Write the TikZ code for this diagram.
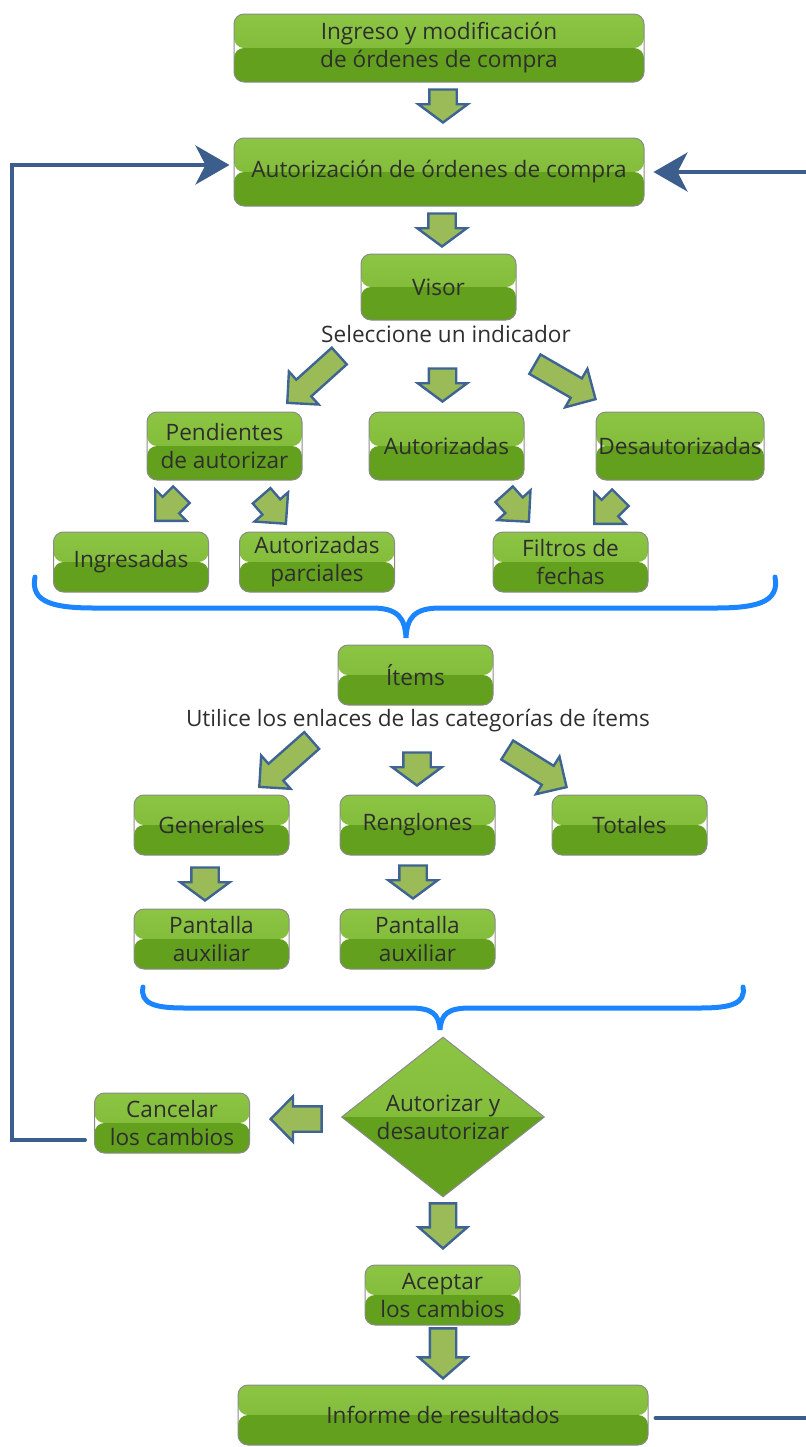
\documentclass[tikz,border=0pt]{standalone}
\usepackage{fontspec}
\setmainfont{Open Sans}
\usetikzlibrary{arrows.meta,shapes.geometric,shapes.arrows}
\definecolor{gtop}{HTML}{8CC544}
\definecolor{gmid}{HTML}{7AB532}
\definecolor{gbot}{HTML}{62A01E}
\definecolor{edge}{HTML}{8A8A8A}
\definecolor{ink}{HTML}{2E2E2E}
\definecolor{afill}{HTML}{9BBB59}
\definecolor{aedge}{HTML}{3F6494}
\definecolor{loopblue}{HTML}{3B5E8C}
\definecolor{bracecol}{HTML}{1A85FF}
\newcommand{\boxfont}{\fontsize{11.3}{14}\selectfont}
\tikzset{
  stepbox/.style={rounded corners=5pt,draw=edge,line width=0.5pt,text=ink,font=\boxfont,
    align=center,inner sep=0pt,minimum width=77.5pt,minimum height=30pt,
    path picture={
      \shade[top color=gtop,bottom color=gmid] (path picture bounding box.north west) rectangle (path picture bounding box.east);
      \fill[gbot] (path picture bounding box.west) rectangle (path picture bounding box.south east);
    }},
  widebox/.style={stepbox,minimum width=205pt,minimum height=34pt},
  tallbox/.style={stepbox,minimum height=34pt},
  decision/.style={stepbox,diamond,rounded corners=0pt,aspect=1.27,inner sep=-5pt,
    minimum width=101.5pt,minimum height=80pt},
  hint/.style={text=ink,font=\boxfont,inner sep=0pt},
  blockarrow/.style={single arrow,draw=aedge,fill=afill,line width=1.2pt,inner xsep=0pt,anchor=tip},
  downarrow/.style={blockarrow,rotate=-90,minimum height=16.5pt,minimum width=23.5pt,inner ysep=6.25pt,
    single arrow head extend=5.5pt,single arrow tip angle=107},
  longdown/.style={blockarrow,rotate=-90,minimum height=#1,minimum width=23pt,inner ysep=6pt,
    single arrow head extend=5.5pt,single arrow tip angle=98},
  bigslant/.style={blockarrow,rotate=#1,minimum height=35pt,minimum width=21pt,inner ysep=5pt,
    single arrow head extend=5.5pt,single arrow tip angle=90},
  smallslant/.style={blockarrow,rotate=#1,minimum height=18.5pt,minimum width=21pt,inner ysep=5.25pt,
    single arrow head extend=5.25pt,single arrow tip angle=90},
  loopline/.style={loopblue,line width=2pt,line cap=round},
  looparrow/.style={loopline,-{Stealth[length=17pt,width=19.5pt,inset=5pt]}},
  bracket/.style={bracecol,line width=2.5pt,line cap=round}
}
\begin{document}
\begin{tikzpicture}[x=0.5pt,y=-0.5pt]
\useasboundingbox (0,0) rectangle (805,1447);
% top of the flow
\node[widebox] (ingreso) at (439,48) {Ingreso y modificación\\de órdenes de compra};
\node[downarrow] (a1) at (443,124) {};
\node[widebox] (autor) at (439,172) {Autorización de órdenes de compra};
\node[downarrow] (a2) at (442,248) {};
\node[stepbox,minimum height=33pt] (visor) at (438.5,287) {Visor};
\node[hint] (indic) at (446,334) {Seleccione un indicador};
\node[bigslant=222] (d1) at (286,404) {};
\node[downarrow] (a3) at (442.5,403) {};
\node[bigslant=-30] (d2) at (597,400) {};
% indicadores
\node[tallbox] (pend) at (224.5,446) {Pendientes\\de autorizar};
\node[tallbox] (autz) at (446.5,446) {Autorizadas};
\node[tallbox,minimum width=84pt] (desa) at (680,446) {Desautorizadas};
\node[smallslant=225] (s1) at (154,522) {};
\node[smallslant=-49] (s2) at (287,525) {};
\node[smallslant=-48] (s3) at (530,523) {};
\node[smallslant=225] (s4) at (593,525) {};
\node[stepbox] (ingr) at (131,562) {Ingresadas};
\node[stepbox] (parc) at (317,562) {Autorizadas\\parciales};
\node[stepbox] (filt) at (570.5,562) {Filtros de\\fechas};
\draw[bracket] (35,577) .. controls (30,603) and (55,608) .. (95,608) -- (372,608)
  .. controls (398,608) and (405,618) .. (406,638) .. controls (407,618) and (414,608) .. (440,608)
  -- (715,608) .. controls (755,608) and (780,603) .. (775,577);
% items
\node[stepbox] (items) at (415.5,675) {Ítems};
\node[hint] (enlaces) at (418,721) {Utilice los enlaces de las categorías de ítems};
\node[bigslant=221.5] (d3) at (258,788) {};
\node[downarrow] (a4) at (417,787) {};
\node[bigslant=-32] (d4) at (568,788) {};
\node[stepbox] (gene) at (211.5,825) {Generales};
\node[stepbox] (reng) at (417.5,825) {Renglones};
\node[stepbox] (tota) at (629.5,825) {Totales};
\node[downarrow] (a5) at (205,902) {};
\node[downarrow] (a6) at (413,900) {};
\node[stepbox] (pan1) at (211.5,939) {Pantalla\\auxiliar};
\node[stepbox] (pan2) at (417.5,939) {Pantalla\\auxiliar};
\draw[bracket] (143,987) .. controls (140,1004) and (155,1008) .. (185,1008) -- (410,1008)
  .. controls (432,1008) and (439,1014) .. (440,1030) .. controls (441,1014) and (448,1008) .. (470,1008)
  -- (700,1008) .. controls (730,1008) and (746,1004) .. (743,987);
% decision
\node[decision] (deci) at (443,1117) {Autorizar y\\desautorizar};
\node[blockarrow,rotate=180,minimum height=25.5pt,minimum width=21.5pt,inner ysep=5.75pt,
  single arrow head extend=5pt,single arrow tip angle=91] (a7) at (269,1119) {};
\node[stepbox] (canc) at (172,1123) {Cancelar\\los cambios};
\node[longdown=22.5pt] (a8) at (443,1250) {};
\node[stepbox] (acep) at (442.5,1295) {Aceptar\\los cambios};
\node[longdown=25pt] (a9) at (443,1380) {};
\node[widebox,minimum height=30pt] (info) at (443,1415) {Informe de resultados};
% return lines
\coordinate (ctail) at (85,1140);
\coordinate (lcorner) at (12,1140);
\coordinate (rin) at (810,172);
\coordinate (rout) at (810,1418);
\draw[looparrow,shorten >=2pt] (ctail) -- (lcorner) |- ([yshift=3.5pt]autor.west);
\draw[looparrow,shorten >=4.5pt] (rin) -- (autor.east);
\draw[loopline,shorten <=3.5pt] ([yshift=-1.5pt]info.east) -- (rout);
\end{tikzpicture}
\end{document}
